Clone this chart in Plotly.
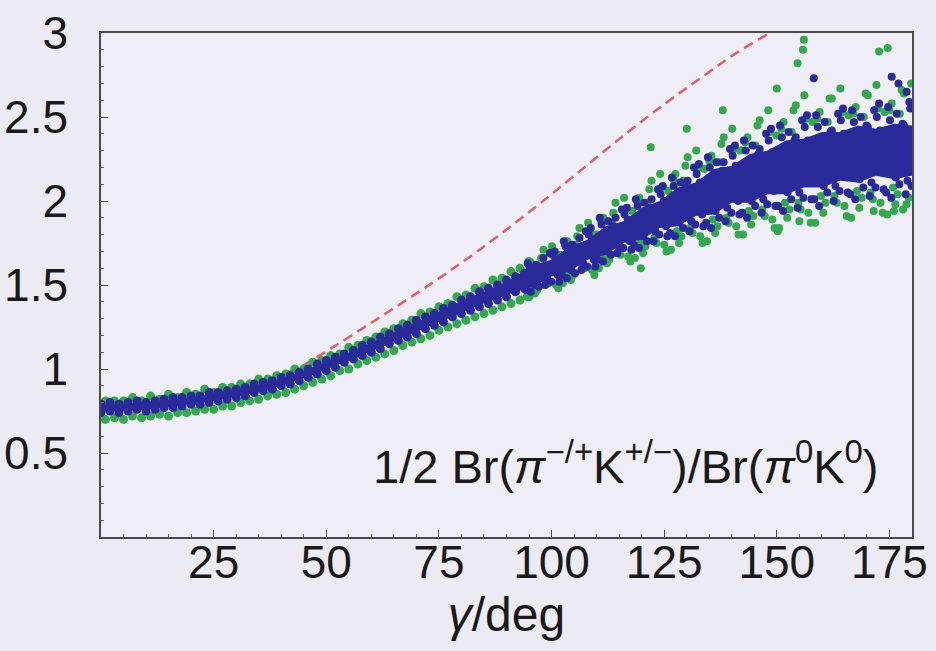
import plotly.graph_objects as go

# ---------------- data ----------------
# dense low-gamma part of the band: blue columns (even gamma) and green columns (odd gamma)
blue_dense_gamma = [0, 2, 4, 6, 8, 10, 12, 14, 16, 18, 20, 22, 24, 26, 28, 30, 32, 34, 36, 38,
                    40, 42, 44, 46, 48, 50, 52, 54, 56, 58, 60, 62, 64, 66, 68, 70, 72, 74, 76,
                    78, 80, 82, 84, 86, 88, 90, 92, 94]
blue_dense_ratio = [
    [0.74, 0.77, 0.79], [0.75, 0.76, 0.80], [0.74, 0.78, 0.79], [0.75, 0.77, 0.80],
    [0.76, 0.78, 0.81], [0.75, 0.79, 0.80], [0.76, 0.78, 0.81], [0.77, 0.80, 0.82],
    [0.77, 0.80, 0.83], [0.78, 0.81, 0.83], [0.79, 0.81, 0.84], [0.79, 0.83, 0.84],
    [0.80, 0.83, 0.86], [0.81, 0.84, 0.86], [0.82, 0.85, 0.87], [0.83, 0.86, 0.88],
    [0.84, 0.87, 0.89], [0.86, 0.88, 0.91], [0.87, 0.90, 0.92], [0.88, 0.91, 0.93],
    [0.90, 0.92, 0.95], [0.91, 0.94, 0.96], [0.93, 0.96, 0.98], [0.95, 0.98, 1.00],
    [0.97, 1.00, 1.03], [0.99, 1.02, 1.05], [1.01, 1.05, 1.07], [1.04, 1.06, 1.09],
    [1.06, 1.09, 1.11], [1.08, 1.11, 1.14], [1.10, 1.13, 1.16], [1.12, 1.16, 1.19],
    [1.15, 1.18, 1.21], [1.17, 1.20, 1.24], [1.19, 1.23, 1.26], [1.21, 1.25, 1.29],
    [1.24, 1.27, 1.31], [1.26, 1.30, 1.33], [1.28, 1.32, 1.36], [1.31, 1.35, 1.38],
    [1.33, 1.37, 1.41], [1.35, 1.39, 1.43], [1.37, 1.41, 1.46], [1.39, 1.44, 1.48],
    [1.41, 1.46, 1.50], [1.43, 1.48, 1.53], [1.46, 1.50, 1.55], [1.48, 1.53, 1.57]]
green_dense_gamma = [1, 3, 5, 7, 9, 11, 13, 15, 17, 19, 21, 23, 25, 27, 29, 31, 33, 35, 37, 39,
                     41, 43, 45, 47, 49, 51, 53, 55, 57, 59, 61, 63, 65, 67, 69, 71, 73, 75, 77,
                     79, 81, 83, 85, 87, 89, 91, 93, 95]
green_dense_ratio = [
    [0.70, 0.81], [0.71, 0.81], [0.70, 0.81], [0.72, 0.83], [0.71, 0.81], [0.72, 0.84],
    [0.73, 0.82], [0.72, 0.85], [0.74, 0.83], [0.74, 0.86], [0.75, 0.85], [0.76, 0.88],
    [0.76, 0.86], [0.78, 0.89], [0.78, 0.89], [0.80, 0.91], [0.81, 0.91], [0.82, 0.94],
    [0.84, 0.94], [0.85, 0.96], [0.86, 0.97], [0.88, 1.00], [0.90, 1.00], [0.92, 1.04],
    [0.94, 1.05], [0.96, 1.08], [0.99, 1.09], [1.00, 1.13], [1.03, 1.14], [1.05, 1.17],
    [1.07, 1.19], [1.09, 1.22], [1.11, 1.24], [1.14, 1.27], [1.16, 1.29], [1.18, 1.33],
    [1.20, 1.34], [1.23, 1.37], [1.25, 1.39], [1.27, 1.43], [1.29, 1.44], [1.31, 1.48],
    [1.33, 1.49], [1.35, 1.53], [1.37, 1.54], [1.39, 1.58], [1.41, 1.60], [1.43, 1.64]]

# densely filled core of the blue cloud (lower / upper edge)
core_gamma = [0, 4, 8, 12, 16, 20, 24, 28, 32, 36, 40, 44, 48, 52, 56, 60, 64, 68, 72, 76,
              80, 84, 88, 92, 96, 100, 104, 108, 112, 116, 120, 124, 128, 132, 136, 140, 144,
              148, 152, 156, 160, 164, 168, 172, 176, 180]
core_low = [0.745, 0.75, 0.755, 0.765, 0.775, 0.79, 0.805, 0.825, 0.845, 0.87, 0.90, 0.935,
            0.975, 1.02, 1.06, 1.105, 1.15, 1.20, 1.245, 1.29, 1.335, 1.38, 1.42, 1.46, 1.49,
            1.55, 1.58, 1.65, 1.68, 1.75, 1.77, 1.84, 1.85, 1.91, 1.92, 1.99, 1.99, 2.04, 2.04,
            2.08, 2.08, 2.12, 2.11, 2.15, 2.13, 2.15]
core_high = [0.785, 0.79, 0.80, 0.81, 0.82, 0.83, 0.85, 0.87, 0.89, 0.915, 0.94, 0.98, 1.02,
             1.065, 1.11, 1.155, 1.205, 1.255, 1.305, 1.355, 1.405, 1.45, 1.495, 1.55, 1.62,
             1.65, 1.73, 1.77, 1.85, 1.88, 1.96, 2.00, 2.08, 2.11, 2.19, 2.21, 2.28, 2.30, 2.36,
             2.37, 2.41, 2.41, 2.45, 2.43, 2.46, 2.45]

# scattered blue points at large gamma
blue_gamma = [
    94.3, 95.1, 96.4, 97.6, 94.7, 95.8, 97.2, 96.6, 95.4, 97.9,
    98.2, 99.0, 100.2, 101.4, 98.6, 99.6, 100.9, 101.7, 99.9, 100.7,
    102.3, 103.1, 104.4, 105.6, 102.7, 103.8, 105.2, 104.6, 103.4, 105.9,
    106.2, 107.0, 108.2, 109.4, 106.6, 107.6, 108.9, 109.7, 107.9, 108.7,
    110.3, 111.1, 112.4, 113.6, 110.7, 111.8, 113.2, 112.6, 111.4, 113.9,
    114.2, 115.0, 116.2, 117.4, 114.6, 115.6, 116.9, 117.7, 115.9, 116.7,
    118.3, 119.1, 120.4, 121.6, 118.7, 119.8, 121.2, 120.6, 119.4, 121.9,
    122.2, 123.0, 124.2, 125.4, 122.6, 123.6, 124.9, 125.7, 123.9, 124.7,
    126.3, 127.1, 128.4, 129.6, 126.7, 127.8, 129.2, 128.6, 127.4, 129.9,
    130.2, 131.0, 132.2, 133.4, 130.6, 131.6, 132.9, 133.7, 131.9, 132.7,
    134.3, 135.1, 136.4, 137.6, 134.7, 135.8, 137.2, 136.6, 135.4, 137.9,
    138.2, 139.0, 140.2, 141.4, 138.6, 139.6, 140.9, 141.7, 139.9, 140.7,
    142.3, 143.1, 144.4, 145.6, 142.7, 143.8, 145.2, 144.6, 143.4, 145.9,
    146.2, 147.0, 148.2, 149.4, 146.6, 147.6, 148.9, 149.7, 147.9, 148.7,
    150.3, 151.1, 152.4, 153.6, 150.7, 151.8, 153.2, 152.6, 151.4, 153.9,
    154.2, 155.0, 156.2, 157.4, 154.6, 155.6, 156.9, 157.7, 155.9, 156.7,
    158.3, 159.1, 160.4, 161.6, 158.7, 159.8, 161.2, 160.6, 159.4, 161.9,
    162.2, 163.0, 164.2, 165.4, 162.6, 163.6, 164.9, 165.7, 163.9, 164.7,
    166.3, 167.1, 168.4, 169.6, 166.7, 167.8, 169.2, 168.6, 167.4, 169.9,
    170.2, 171.0, 172.2, 173.4, 170.6, 171.6, 172.9, 173.7, 171.9, 172.7,
    174.3, 175.1, 176.4, 177.6, 174.7, 175.8, 177.2, 176.6, 175.4, 177.9,
    178.2, 179.0, 179.6, 178.6, 179.9, 179.4,
    158.2, 175.5, 177.0, 178.8]
blue_ratio = [
    1.47, 1.61, 1.50, 1.59, 1.63, 1.51, 1.49, 1.62, 1.46, 1.60,
    1.66, 1.54, 1.68, 1.56, 1.50, 1.69, 1.65, 1.52, 1.52, 1.70,
    1.56, 1.73, 1.59, 1.71, 1.76, 1.60, 1.57, 1.74, 1.54, 1.72,
    1.78, 1.63, 1.80, 1.65, 1.59, 1.82, 1.77, 1.61, 1.61, 1.84,
    1.65, 1.86, 1.70, 1.84, 1.90, 1.71, 1.68, 1.88, 1.64, 1.85,
    1.90, 1.73, 1.92, 1.76, 1.69, 1.95, 1.89, 1.71, 1.72, 1.96,
    1.74, 1.97, 1.79, 1.95, 2.01, 1.80, 1.76, 1.99, 1.72, 1.96,
    2.01, 1.82, 2.04, 1.85, 1.76, 2.07, 2.00, 1.79, 1.80, 2.09,
    1.81, 2.09, 1.87, 2.06, 2.14, 1.88, 1.84, 2.11, 1.79, 2.08,
    2.12, 1.88, 2.16, 1.92, 1.82, 2.20, 2.11, 1.85, 1.86, 2.22,
    1.87, 2.20, 1.94, 2.17, 2.26, 1.95, 1.90, 2.23, 1.84, 2.18,
    2.23, 1.96, 2.27, 2.00, 1.88, 2.31, 2.21, 1.92, 1.93, 2.33,
    1.93, 2.30, 2.00, 2.26, 2.36, 2.02, 1.97, 2.33, 1.90, 2.28,
    2.31, 2.01, 2.36, 2.06, 1.93, 2.40, 2.29, 1.97, 1.98, 2.43,
    1.97, 2.38, 2.05, 2.34, 2.45, 2.07, 2.01, 2.41, 1.94, 2.36,
    2.38, 2.05, 2.44, 2.11, 1.96, 2.48, 2.36, 2.01, 2.02, 2.51,
    2.01, 2.44, 2.09, 2.39, 2.51, 2.12, 2.05, 2.47, 1.97, 2.41,
    2.42, 2.09, 2.48, 2.15, 2.00, 2.52, 2.40, 2.05, 2.06, 2.55,
    2.04, 2.47, 2.13, 2.42, 2.54, 2.15, 2.08, 2.50, 2.01, 2.45,
    2.44, 2.11, 2.50, 2.17, 2.03, 2.54, 2.42, 2.07, 2.08, 2.58,
    2.05, 2.48, 2.14, 2.44, 2.56, 2.16, 2.10, 2.52, 2.02, 2.46,
    2.45, 2.12, 2.55, 2.04, 2.09, 2.59,
    2.73, 2.74, 2.70, 2.65]

# scattered green points at large gamma
green_gamma = [
    94.5, 95.5, 96.8, 97.7, 95.0, 96.3, 97.3, 95.8,
    98.2, 99.3, 100.5, 101.5, 98.8, 100.1, 101.0, 101.9,
    102.5, 103.5, 104.8, 105.7, 103.0, 104.3, 105.3, 103.8,
    106.2, 107.3, 108.5, 109.5, 106.8, 108.1, 109.0, 109.9,
    110.5, 111.5, 112.8, 113.7, 111.0, 112.3, 113.3, 111.8,
    114.2, 115.3, 116.5, 117.5, 114.8, 116.1, 117.0, 117.9,
    118.5, 119.5, 120.8, 121.7, 119.0, 120.3, 121.3, 119.8, 119.8, 122.0,
    122.2, 123.3, 124.5, 125.5, 122.8, 124.1, 125.0, 125.9,
    126.5, 127.5, 128.8, 129.7, 127.0, 128.3, 129.3, 127.8,
    130.2, 131.3, 132.5, 133.5, 130.8, 132.1, 133.0, 133.9, 130.0,
    134.5, 135.5, 136.8, 137.7, 135.0, 136.3, 137.3, 135.8, 138.0,
    138.2, 139.3, 140.5, 141.5, 138.8, 140.1, 141.0, 141.9,
    142.5, 143.5, 144.8, 145.7, 143.0, 144.3, 145.3, 143.8,
    146.2, 147.3, 148.5, 149.5, 146.8, 148.1, 149.0, 149.9, 150.0, 150.2,
    150.5, 151.5, 152.8, 153.7, 151.0, 152.3, 153.3, 151.8, 154.6, 155.8, 156.0, 155.0,
    154.2, 155.3, 156.5, 157.5, 154.8, 156.1, 157.0, 157.9,
    158.5, 159.5, 160.8, 161.7, 159.0, 160.3, 161.3, 159.8,
    162.2, 163.3, 164.5, 165.5, 162.8, 164.1, 165.0, 165.9,
    166.5, 167.5, 168.8, 169.7, 167.0, 168.3, 169.3, 167.8,
    170.2, 171.3, 172.5, 173.5, 170.8, 172.1, 173.0, 173.9, 172.7, 174.6, 171.5,
    174.5, 175.5, 176.8, 177.7, 175.0, 176.3, 177.3, 175.8, 176.0, 178.0,
    178.2, 179.3, 178.8, 179.8]
green_ratio = [
    1.43, 1.63, 1.47, 1.66, 1.62, 1.45, 1.61, 1.48,
    1.71, 1.51, 1.68, 1.48, 1.52, 1.73, 1.50, 1.68,
    1.51, 1.76, 1.56, 1.79, 1.74, 1.53, 1.74, 1.57,
    1.84, 1.60, 1.81, 1.56, 1.61, 1.87, 1.59, 1.80,
    1.60, 1.90, 1.65, 1.93, 1.88, 1.63, 1.87, 1.67,
    1.99, 1.68, 1.95, 1.64, 1.70, 2.02, 1.67, 1.94,
    1.66, 2.02, 1.73, 2.07, 2.00, 1.69, 1.99, 1.75, 1.60, 2.32,
    2.12, 1.75, 2.08, 1.70, 1.78, 2.16, 1.74, 2.06,
    1.71, 2.16, 1.79, 2.21, 2.13, 1.75, 2.12, 1.82,
    2.26, 1.81, 2.20, 1.75, 1.84, 2.30, 1.79, 2.19, 2.43,
    1.76, 2.27, 1.85, 2.34, 2.24, 1.81, 2.23, 1.89, 2.54,
    2.38, 1.87, 2.31, 1.80, 1.90, 2.43, 1.85, 2.30,
    1.80, 2.38, 1.91, 2.45, 2.35, 1.86, 2.33, 1.94,
    2.48, 1.91, 2.41, 1.84, 1.95, 2.54, 1.89, 2.39, 2.67, 1.82,
    1.84, 2.47, 1.95, 2.54, 2.43, 1.90, 2.41, 1.99, 2.82, 2.90, 2.96, 1.88,
    2.57, 1.95, 2.49, 1.87, 1.99, 2.63, 1.93, 2.47,
    1.87, 2.53, 1.99, 2.61, 2.49, 1.93, 2.47, 2.03,
    2.61, 1.99, 2.53, 1.91, 2.03, 2.67, 1.97, 2.51,
    1.90, 2.56, 2.02, 2.64, 2.52, 1.96, 2.50, 2.06,
    2.63, 2.01, 2.55, 1.93, 2.05, 2.69, 1.99, 2.53, 2.89, 2.91, 1.94,
    1.92, 2.58, 2.04, 2.66, 2.54, 1.98, 2.52, 2.08, 1.94, 1.95,
    2.64, 2.02, 1.98, 2.70]

# red dashed curve
curve_gamma = [0, 10, 20, 30, 36, 42.7, 50.9, 62, 73.1, 83.5, 95.3, 105, 116, 125.7, 133,
               140.4, 149, 152]
curve_ratio = [0.765, 0.785, 0.82, 0.875, 0.925, 0.99, 1.12, 1.31, 1.505, 1.70, 1.94, 2.15,
               2.39, 2.59, 2.73, 2.87, 3.01, 3.06]

x_ticks = [25, 50, 75, 100, 125, 150, 175]
y_ticks = [0.5, 1, 1.5, 2, 2.5, 3]
y_tick_text = ["0.5", "1", "1.5", "2", "2.5", "3"]

assert len(blue_gamma) == len(blue_ratio)
assert len(green_gamma) == len(green_ratio)
assert len(core_gamma) == len(core_low) == len(core_high)

# ---------------- build flat point lists ----------------
bdx, bdy, gdx, gdy = [], [], [], []
for g, ys in zip(blue_dense_gamma, blue_dense_ratio):
    for y in ys:
        bdx.append(g)
        bdy.append(y)
for g, ys in zip(green_dense_gamma, green_dense_ratio):
    for y in ys:
        gdx.append(g)
        gdy.append(y)

BLUE = "#2a2a9a"
GREEN = "#34a84c"
RED = "rgb(228,92,104)"
FONT = "Liberation Sans, Arial, Helvetica, sans-serif"
BG = "#ecebf4"

fig = go.Figure()
fig.add_trace(go.Scatter(x=curve_gamma, y=curve_ratio, mode="lines",
                         line=dict(color=RED, width=2.5, dash="10px,6px", shape="spline"),
                         hoverinfo="skip"))
fig.add_trace(go.Scatter(x=gdx, y=gdy, mode="markers",
                         marker=dict(color=GREEN, size=9, line=dict(width=0))))
fig.add_trace(go.Scatter(x=green_gamma, y=green_ratio, mode="markers",
                         marker=dict(color=GREEN, size=8, line=dict(width=0))))
fig.add_trace(go.Scatter(x=core_gamma + core_gamma[::-1], y=core_low + core_high[::-1],
                         mode="lines", fill="toself", fillcolor=BLUE,
                         line=dict(width=0, color=BLUE), hoverinfo="skip"))
fig.add_trace(go.Scatter(x=bdx, y=bdy, mode="markers",
                         marker=dict(color=BLUE, size=9, line=dict(width=0))))
fig.add_trace(go.Scatter(x=blue_gamma, y=blue_ratio, mode="markers",
                         marker=dict(color=BLUE, size=8, line=dict(width=0))))

fig.add_annotation(x=173.2, y=0.44, xref="x", yref="y", xanchor="right", yanchor="middle",
                   text="1/2 Br(<i>π</i><sup>−/+</sup>K<sup>+/−</sup>)/Br(<i>π</i><sup>0</sup>K<sup>0</sup>)",
                   showarrow=False, font=dict(family=FONT, size=47, color="#1a1a1a"))

axis_common = dict(showline=True, linecolor="#4a4a4a", linewidth=1.5, mirror=True,
                   ticks="inside", ticklen=7, tickcolor="#4a4a4a", tickwidth=1,
                   showgrid=False, zeroline=False, automargin=False,
                   tickfont=dict(family=FONT, size=46, color="#1a1a1a"))

fig.update_layout(
    width=936, height=651,
    margin=dict(l=101, r=24, t=33, b=114),
    paper_bgcolor=BG, plot_bgcolor="#efeef7",
    showlegend=False,
    xaxis=dict(range=[0, 180], tickvals=x_ticks, ticklabelstandoff=-16,
               minor=dict(ticks="inside", ticklen=3, dtick=5, tickcolor="#6a6a6a"),
               title=dict(text="<i>γ</i>/deg", standoff=0,
                          font=dict(family=FONT, size=48, color="#1a1a1a")),
               **axis_common),
    yaxis=dict(range=[0, 3], tickvals=y_ticks, ticktext=y_tick_text, ticklabelstandoff=22,
               minor=dict(ticks="inside", ticklen=3, dtick=0.1, tickcolor="#6a6a6a"),
               **axis_common),
)

fig.write_html("out.html", config={"displayModeBar": False},
               post_script="document.body.style.margin='0';document.body.style.background='%s';" % BG)
